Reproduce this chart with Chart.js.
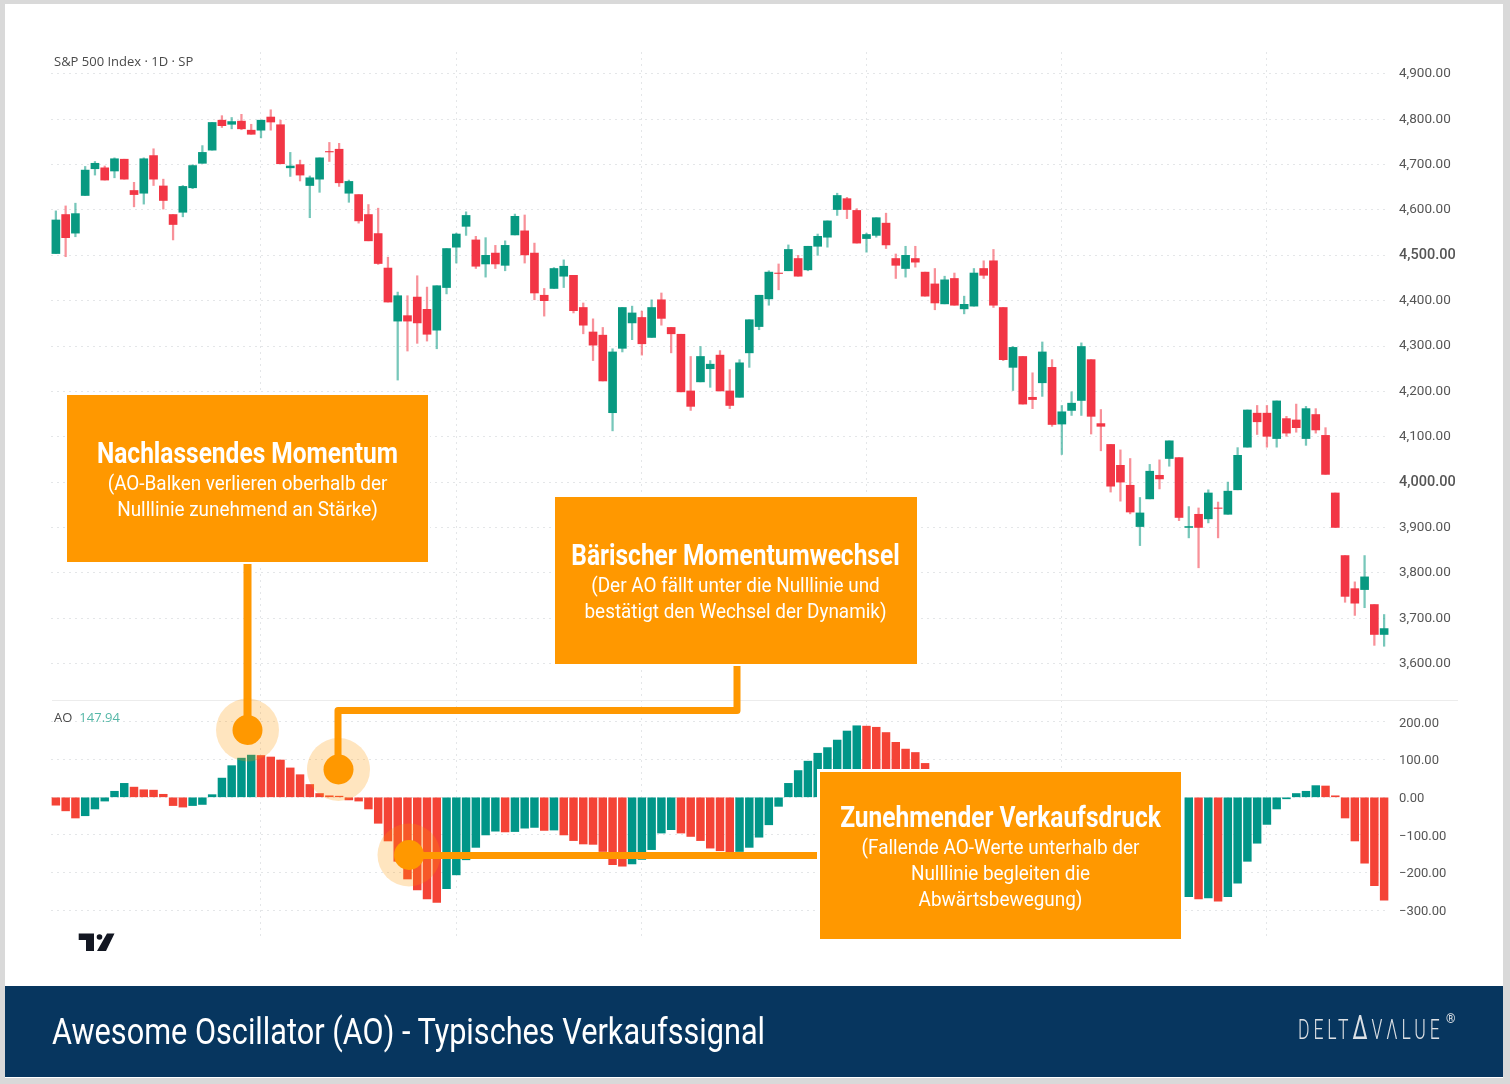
<!DOCTYPE html>
<html lang="de">
<head>
<meta charset="utf-8">
<title>Awesome Oscillator (AO) - Typisches Verkaufssignal</title>
<script src="https://cdn.jsdelivr.net/npm/chart.js@4/dist/chart.umd.min.js"></script>
<style>
html, body { margin: 0; padding: 0; background: #d9d9d9; }
body { position: relative; width: 1510px; height: 1084px; overflow: hidden; font-family: Roboto, sans-serif; }
#sheet { position: absolute; left: 5px; top: 4px; width: 1498px; height: 1074px; background: #fff; }
canvas { position: absolute; left: 0; filter: blur(.35px); }
#price-chart { top: 52px; }
#ao-chart { top: 700px; }
#divider { position: absolute; left: 52px; top: 700px; width: 1406px; height: 1px; background: #ececec; }
#overlay { position: absolute; left: 0; top: 0; }
.legend { position: absolute; left: 54px; font: 13px "Open Sans", sans-serif; color: #4a4a4a; white-space: nowrap; }
.legend b { font-weight: 400; color: #55b7a7; margin-left: 7px; }
.box { position: absolute; width: 361px; height: 167px; background: #ff9800; box-shadow: 0 0 0 2px #fff; color: #fff; text-align: center; }
.box div { position: absolute; left: -40px; width: 441px; white-space: nowrap; line-height: 26px; }
.box .head { font-size: 29px; font-weight: 700; line-height: 32px; transform: scaleX(.845); }
.box .note { font-size: 21px; font-weight: 400; transform: scaleX(.9); }
#footer { position: absolute; left: 5px; top: 986px; width: 1498px; height: 91px; background: #07365f; }
#footer-title { position: absolute; font-size: 36px; line-height: 46px; color: #fff; white-space: nowrap; transform: scaleX(.852); transform-origin: left center; }
#brand { position: absolute; font-size: 27px; font-weight: 300; line-height: 34px; color: #dde1e5; letter-spacing: 6px; white-space: nowrap; transform: scaleX(.65); transform-origin: left center; }
#brand span { font-size: 33px; font-weight: 400; line-height: 20px; }
#brand-mark { position: absolute; font-size: 12px; color: #dde1e5; }
</style>
</head>
<body>
<div id="sheet"></div>
<canvas id="price-chart" width="1510" height="648"></canvas>
<canvas id="ao-chart" width="1510" height="240"></canvas>
<div id="divider"></div>
<div class="legend" style="top:52px">S&amp;P 500 Index · 1D · SP</div>
<div class="legend" style="top:708px">AO<b>147.94</b></div>

<svg id="overlay" width="1510" height="1084">
  <!-- TradingView logo -->
  <path d="M78.7 933.5H94V951H86V940H78.7Z M107 933.5H114.5L106 951H97Z" fill="#131722"/>
  <circle cx="99.5" cy="937" r="2.8" fill="#131722"/>
  <!-- connectors -->
  <g fill="none" stroke="#ff9800" stroke-width="7" stroke-linejoin="round">
    <path d="M247.5 562V730" stroke-width="8"/>
    <path d="M338 769V710.5H737V664"/>
    <path d="M409 855.5H818"/>
  </g>
  <g fill="#ff9800">
    <circle cx="247.5" cy="730" r="31.5" fill-opacity=".25"/>
    <circle cx="247.5" cy="730" r="15"/>
    <circle cx="338.5" cy="769.5" r="31.5" fill-opacity=".25"/>
    <circle cx="338.5" cy="769.5" r="15"/>
    <circle cx="409" cy="855" r="31.5" fill-opacity=".25"/>
    <circle cx="409" cy="855" r="15"/>
  </g>
</svg>

<div class="box" style="left:67px;top:395px">
  <div class="head" style="top:42px">Nachlassendes Momentum</div>
  <div class="note" style="top:75px">(AO-Balken verlieren oberhalb der</div>
  <div class="note" style="top:101px">Nulllinie zunehmend an Stärke)</div>
</div>
<div class="box" style="left:555px;top:497px;width:362px">
  <div class="head" style="top:42px">Bärischer Momentumwechsel</div>
  <div class="note" style="top:75px">(Der AO fällt unter die Nulllinie und</div>
  <div class="note" style="top:101px">bestätigt den Wechsel der Dynamik)</div>
</div>
<div class="box" style="left:820px;top:772px;box-shadow:0 0 0 3px #fff">
  <div class="head" style="top:29px">Zunehmender Verkaufsdruck</div>
  <div class="note" style="top:62px">(Fallende AO-Werte unterhalb der</div>
  <div class="note" style="top:88px">Nulllinie begleiten die</div>
  <div class="note" style="top:114px">Abwärtsbewegung)</div>
</div>

<div id="footer"></div>
<div id="footer-title" style="top:1009px;left:52px">Awesome Oscillator (AO) - Typisches Verkaufssignal</div>
<div id="brand" style="top:1013px;left:1298px">DELT<span>Δ</span>VΛLUE</div>
<div id="brand-mark" style="top:1012px;left:1446px">®</div>

<script>
// Candles
const opens = [4504,4590,4549,4632,4691,4693,4686,4712,4643,4637,4720,4653,4590,4595,4649,4703,4732,4798,4789,4796,
  4776,4776,4805,4788,4693,4700,4654,4668,4729,4734,4637,4634,4590,4548,4472,4355,4367,4408,4381,4335,
  4429,4518,4564,4534,4481,4505,4478,4545,4554,4505,4412,4427,4454,4456,4385,4331,4324,4153,4295,4351,
  4363,4319,4402,4341,4326,4201,4221,4250,4280,4201,4187,4285,4343,4404,4461,4466,4493,4468,4520,4540,
  4601,4625,4599,4537,4544,4571,4493,4471,4493,4463,4437,4393,4449,4382,4388,4471,4488,4385,4253,4277,
  4187,4219,4253,4128,4158,4180,4270,4129,4083,4037,3993,3902,3963,4015,4052,4054,3900,3929,3919,3943,
  3929,3983,4077,4152,4152,4096,4140,4137,4096,4149,4103,3976,3838,3765,3763,3730,3664];
const highs = [4598,4609,4615,4696,4707,4697,4715,4712,4661,4715,4735,4668,4590,4654,4700,4742,4793,4808,4804,4811,
  4789,4798,4821,4798,4727,4710,4675,4715,4749,4747,4666,4634,4612,4604,4496,4419,4411,4455,4430,4433,
  4515,4549,4596,4542,4539,4522,4532,4591,4589,4527,4427,4473,4490,4456,4395,4360,4341,4294,4385,4388,
  4377,4402,4417,4341,4326,4277,4299,4268,4290,4248,4270,4358,4412,4466,4481,4523,4500,4520,4547,4576,
  4637,4628,4603,4549,4583,4593,4503,4520,4520,4463,4471,4454,4461,4410,4471,4488,4513,4385,4299,4277,
  4241,4309,4270,4169,4199,4307,4270,4160,4083,4071,4052,3966,4039,4049,4091,4054,3946,3943,3983,3956,
  4000,4076,4159,4169,4169,4179,4145,4172,4167,4162,4120,3976,3838,3780,3838,3730,3708];
const lows = [4504,4497,4541,4632,4677,4666,4671,4668,4607,4613,4654,4602,4534,4585,4647,4703,4732,4782,4779,4777,
  4767,4759,4776,4702,4674,4664,4583,4639,4707,4652,4617,4571,4532,4480,4397,4225,4289,4306,4311,4294,
  4415,4483,4544,4471,4452,4471,4466,4545,4483,4402,4366,4427,4429,4373,4327,4268,4223,4113,4287,4314,
  4280,4319,4346,4285,4199,4158,4221,4209,4201,4162,4187,4253,4336,4390,4424,4466,4454,4466,4500,4518,
  4588,4581,4527,4507,4540,4515,4449,4452,4474,4410,4380,4393,4390,4371,4388,4449,4385,4268,4202,4172,
  4162,4189,4123,4061,4147,4147,4106,4069,3978,3958,3930,3860,3963,3985,4035,3915,3877,3811,3910,3877,
  3929,3983,4077,4105,4077,4077,4101,4110,4081,4108,4017,3900,3735,3706,3723,3640,3638];
const closes = [4578,4539,4592,4688,4703,4666,4713,4668,4634,4713,4668,4621,4568,4652,4698,4727,4793,4786,4795,4779,
  4767,4798,4794,4702,4697,4677,4671,4715,4728,4660,4663,4576,4532,4482,4397,4411,4355,4351,4326,4433,
  4515,4547,4588,4476,4500,4481,4522,4586,4501,4417,4400,4471,4476,4378,4346,4302,4223,4287,4385,4373,
  4305,4385,4361,4327,4199,4167,4277,4260,4201,4169,4263,4358,4412,4463,4460,4513,4454,4520,4542,4576,
  4632,4601,4527,4546,4583,4523,4478,4500,4485,4410,4395,4446,4390,4392,4461,4456,4390,4270,4297,4172,
  4182,4287,4127,4155,4174,4299,4145,4123,3991,4000,3934,3932,4024,4007,4091,3922,3902,3900,3976,3942,
  3980,4059,4159,4133,4101,4179,4108,4120,4162,4115,4017,3900,3748,3733,3791,3664,3677];

// Awesome Oscillator, the bars behind the third box are estimated
const aoValues = [-21,-36,-55,-49,-31,-10,16,37,27,20,19,8,-22,-26,-22,-19,7,51,84,104,
  112,111,107,99,78,60,34,10,4,3,-7,-10,-31,-69,-116,-170,-217,-246,-270,-279,
  -243,-206,-166,-133,-100,-90,-92,-91,-82,-80,-88,-87,-100,-115,-124,-125,-144,-179,-183,-177,
  -165,-139,-95,-86,-95,-104,-115,-135,-142,-150,-144,-133,-106,-73,-24,37,71,96,117,132,
  152,176,190,189,186,172,146,128,119,90,60,35,10,-10,-15,-10,-20,-45,-75,-100,
  -120,-130,-155,-180,-200,-195,-185,-195,-215,-235,-255,-270,-265,-255,-250,-268,-264,-270,-267,-276,
  -264,-228,-170,-122,-72,-31,-4,10,16,31,30,4,-55,-116,-175,-235,-273];

const sessions = closes.map((_, i) => i + 1);
const monthStarts = [22, 42, 61, 84, 104, 125];   // sessions with a vertical grid line
const priceTicks = [4900,4800,4700,4600,4500,4400,4300,4200,4100,4000,3900,3800,3700,3600];
const aoTicks = [200,100,0,-100,-200,-300];

const UP = '#089981';
const DOWN = '#f23645';
const GRID = '#e4e6e8';

// The x axis is the same in both panes
function sessionAxis() {
    return {
        type: 'category',
        afterFit: scale => { scale.height = 0; },
        grid: {
            offset: false,
            drawTicks: false,
            color: ctx => monthStarts.includes(sessions[ctx.index]) ? GRID : 'transparent'
        },
        border: { display: false, dash: [2, 4] },
        ticks: { display: false, autoSkip: false }
    };
}

function valueAxis(min, max, tickValues, format, font, labelOffset) {
    return {
        position: 'right',
        min: min,
        max: max,
        afterBuildTicks: scale => { scale.ticks = tickValues.map(v => ({ value: v })); },
        afterFit: scale => {
            scale.width = 121;
            scale.paddingTop = 0;
            scale.paddingBottom = 0;
        },
        grid: { drawTicks: false, color: GRID },
        border: { display: false, dash: [2, 4] },
        ticks: { padding: 10, color: '#555', font: font, labelOffset: labelOffset, callback: format }
    };
}

function baseOptions(yAxis) {
    return {
        responsive: false,
        animation: false,
        layout: { padding: { left: 51 } },
        plugins: { legend: { display: false }, tooltip: { enabled: false } },
        datasets: { bar: { grouped: false, borderWidth: 0, borderSkipped: false } },
        scales: { x: sessionAxis(), y: yAxis }
    };
}

// Price pane: wicks and bodies are floating bars
function drawPriceChart() {
    const isUp = closes.map((c, i) => c >= opens[i]);
    const ctx = document.getElementById('price-chart').getContext('2d');
    new Chart(ctx, {
        type: 'bar',
        data: {
            labels: sessions,
            datasets: [
                {
                    label: 'Body',
                    data: opens.map((o, i) => [o, closes[i]]),
                    backgroundColor: isUp.map(up => up ? UP : DOWN),
                    barThickness: 8
                },
                {
                    label: 'Wick',
                    data: lows.map((l, i) => [l, highs[i]]),
                    backgroundColor: isUp.map(up => up ? 'rgba(8,153,129,.55)' : 'rgba(242,54,69,.55)'),
                    barThickness: 1.6
                }
            ]
        },
        options: baseOptions(valueAxis(3519.5, 4948.4, priceTicks,
            v => v.toLocaleString('en-US', { minimumFractionDigits: 2 }),
            ctx => (ctx.tick && ctx.tick.value % 500 === 0)
                ? { family: 'Roboto', size: 14.5, weight: 500 }
                : { family: 'Roboto', size: 13.5 },
            0))
    });
}

// AO pane: green when the value rises against the previous bar
function drawAoChart() {
    const colors = aoValues.map((v, i) => (i > 0 && v > aoValues[i - 1]) ? '#009688' : '#f44336');
    const ctx = document.getElementById('ao-chart').getContext('2d');
    new Chart(ctx, {
        type: 'bar',
        data: {
            labels: sessions,
            datasets: [{
                label: 'AO',
                data: aoValues,
                backgroundColor: colors,
                barThickness: 7.8
            }]
        },
        options: baseOptions(valueAxis(-379, 258.4, aoTicks,
            v => v.toFixed(2).replace('-', '\u2212'),
            { family: 'Roboto', size: 13 },
            1.5))
    });
}

drawPriceChart();
drawAoChart();
</script>
</body>
</html>
